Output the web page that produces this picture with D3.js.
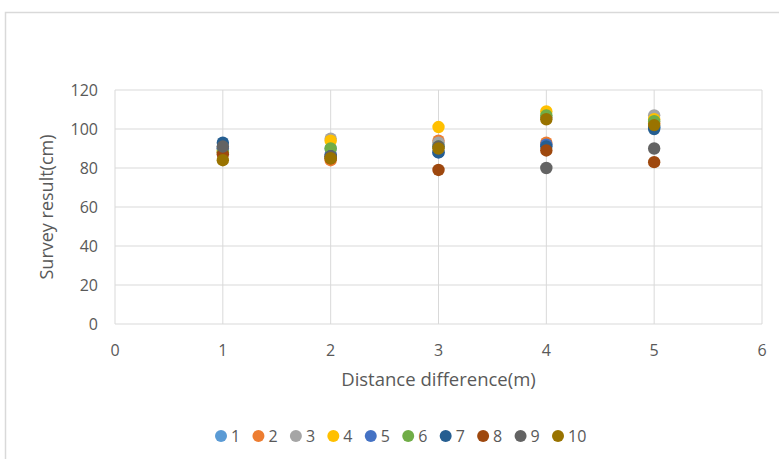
<!DOCTYPE html>
<html><head><meta charset="utf-8">
<script src="https://cdn.jsdelivr.net/npm/d3@7"></script>
<style>body{margin:0;background:#fff}svg{display:block}text{font-family:"Open Sans","Liberation Sans",sans-serif;fill:#595959}</style>
</head><body>
<svg id="c" width="779" height="459"></svg>
<script>
const xValues = [1, 2, 3, 4, 5];
const seriesNames = ["1","2","3","4","5","6","7","8","9","10"];
const seriesColors = ["#5b9bd5","#ed7d31","#a5a5a5","#ffc000","#4472c4","#70ad47","#255e91","#9e480e","#636363","#997300"];
const s1  = [90, 90, 92, 92, 101];
const s2  = [88, 84, 94, 93, 103];
const s3  = [91, 95, 93, 106, 107];
const s4  = [89, 94, 101, 109, 105];
const s5  = [90, 87, 88, 92, 101];
const s6  = [88, 90, 91, 107, 104];
const s7  = [93, 86, 88, 91, 100];
const s8  = [87, 85, 79, 89, 83];
const s9  = [91, 86, 91, 80, 90];
const s10 = [84, 85, 90, 105, 102];
const seriesValues = [s1,s2,s3,s4,s5,s6,s7,s8,s9,s10];
const xTicks = [0,1,2,3,4,5,6];
const yTicks = [0,20,40,60,80,100,120];

const svg = d3.select("#c");
svg.append("rect").attr("x",5.5).attr("y",12.5).attr("width",790).attr("height",460)
  .attr("fill","none").attr("stroke","#d9d9d9").attr("stroke-width",1.5);

const L=115, R=762, T=90, B=324;
const x = d3.scaleLinear().domain([0,6]).range([L,R]);
const y = d3.scaleLinear().domain([0,120]).range([B,T]);

const g = svg.append("g");
g.selectAll(".hg").data(yTicks).join("line")
  .attr("x1",L).attr("x2",R).attr("y1",d=>y(d)).attr("y2",d=>y(d))
  .attr("stroke","#d9d9d9").attr("stroke-width",1);
g.selectAll(".vg").data(xTicks).join("line")
  .attr("y1",T).attr("y2",B).attr("x1",d=>x(d)).attr("x2",d=>x(d))
  .attr("stroke","#d9d9d9").attr("stroke-width",1);

svg.selectAll(".yt").data(yTicks).join("text")
  .attr("x",L-17).attr("y",d=>y(d)).attr("dy","0.35em").attr("text-anchor","end")
  .attr("font-size",16).text(d=>d);
svg.selectAll(".xt").data(xTicks).join("text")
  .attr("x",d=>x(d)).attr("y",B+26).attr("dy","0.35em").attr("text-anchor","middle")
  .attr("font-size",16).text(d=>d);

svg.append("text").attr("transform",`translate(47,${(T+B)/2}) rotate(-90)`)
  .attr("text-anchor","middle").attr("dy","0.35em").attr("font-size",18).text("Survey result(cm)");
svg.append("text").attr("x",(L+R)/2).attr("y",380).attr("text-anchor","middle").attr("dy","0.35em")
  .attr("font-size",18.5).text("Distance difference(m)");

seriesValues.forEach((vals,i)=>{
  svg.append("g").selectAll("circle").data(vals).join("circle")
    .attr("cx",(d,j)=>x(xValues[j])).attr("cy",d=>y(d)).attr("r",6.2)
    .attr("fill",seriesColors[i]);
});

const lg = svg.append("g");
const lx = d3.scalePoint().domain(seriesNames).range([221,558]);
seriesNames.forEach((n,i)=>{
  lg.append("circle").attr("cx",lx(n)).attr("cy",436).attr("r",6).attr("fill",seriesColors[i]);
  lg.append("text").attr("x",lx(n)+10).attr("y",436).attr("dy","0.35em").attr("font-size",16).text(n);
});
</script>
</body></html>
